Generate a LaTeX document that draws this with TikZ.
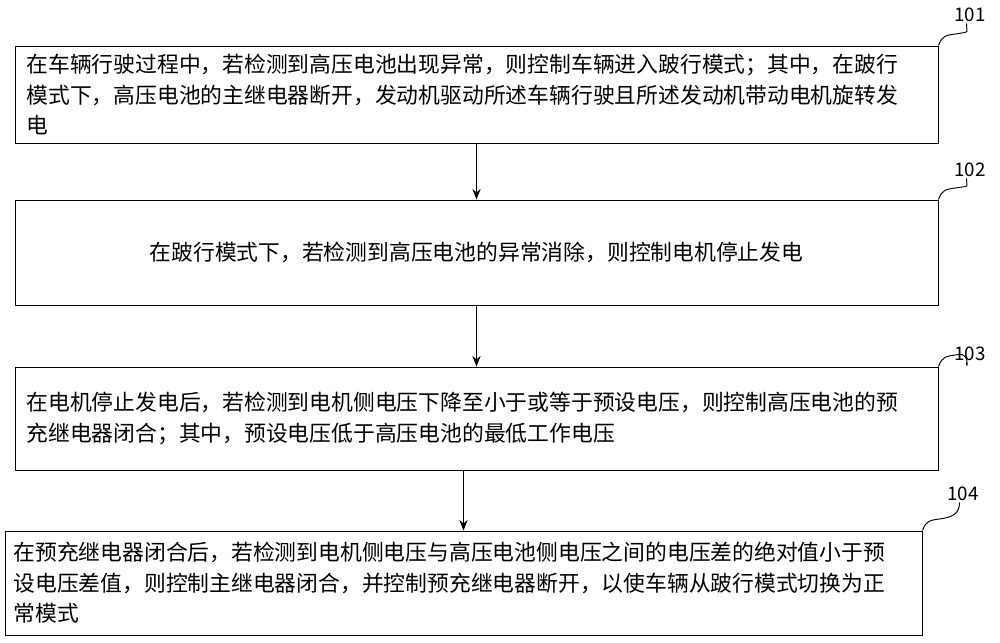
\documentclass[tikz,border=0pt]{standalone}
\usepackage{fontspec}
\setmainfont{Noto Sans CJK SC}
\usepackage{tikz}
\usetikzlibrary{arrows,positioning}

\tikzset{
  stepbox/.style={draw,thick,inner sep=0pt,font=\fontsize{18.6pt}{26pt}\selectfont},
  numlabel/.style={font=\fontsize{16pt}{17pt}\selectfont,inner sep=1pt},
  hook/.style={thick},
  flow/.style={thick,-{Stealth[length=9pt,width=7pt]}},
}
\usetikzlibrary{arrows.meta}

\begin{document}
\begin{tikzpicture}[x=0.03cm,y=-0.03cm]
\useasboundingbox (0,0) rectangle (1000,643);

% Steps
\node[stepbox,minimum width=923*0.03cm,minimum height=97*0.03cm,text width=900*0.03cm,align=left] (s101) at (476.5,94.5)
  {在车辆行驶过程中，若检测到高压电池出现异常，则控制车辆进入跛行模式；其中，在跛行\\模式下，高压电池的主继电器断开，发动机驱动所述车辆行驶且所述发动机带动电机旋转发\\电};
\node[stepbox,minimum width=923*0.03cm,minimum height=105*0.03cm] (s102) at (476.5,252.5)
  {在跛行模式下，若检测到高压电池的异常消除，则控制电机停止发电};
\node[stepbox,minimum width=923*0.03cm,minimum height=103*0.03cm,text width=900*0.03cm,align=left] (s103) at (476.5,418.5)
  {在电机停止发电后，若检测到电机侧电压下降至小于或等于预设电压，则控制高压电池的预\\充继电器闭合；其中，预设电压低于高压电池的最低工作电压};
\node[stepbox,minimum width=917*0.03cm,minimum height=104*0.03cm,text width=900*0.03cm,align=left] (s104) at (463.5,583)
  {在预充继电器闭合后，若检测到电机侧电压与高压电池侧电压之间的电压差的绝对值小于预\\设电压差值，则控制主继电器闭合，并控制预充继电器断开，以使车辆从跛行模式切换为正\\常模式};

% Labels
\node[numlabel] (l101) at (970,15) {101};
\node[numlabel] (l102) at (970,170) {102};
\node[numlabel] (l103) at (970,354) {103};
\node[numlabel] (l104) at (963,494) {104};

% Hooks
\foreach \s in {101,102,103,104}
  \draw[hook] (s\s.north east) .. controls ++(4,-10) and ++(-14,2) .. ++(20,-12)
    .. controls ++(12,-2) and ++(0,10) .. ([xshift=-3pt]l\s.south);

% Flow
\draw[flow] (s101.south) -- (s102.north);
\draw[flow] (s102.south) -- (s103.north);
\draw[flow] (s103.south -| s104.north) -- (s104.north);
\end{tikzpicture}
\end{document}
